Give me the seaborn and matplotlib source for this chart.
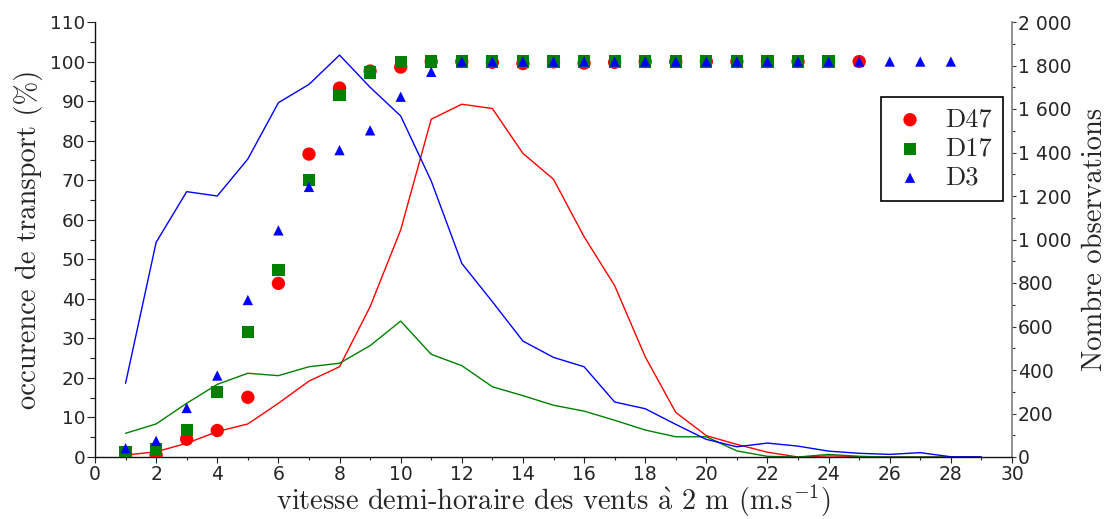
import matplotlib
matplotlib.use("Agg")
import matplotlib.pyplot as plt
from matplotlib.ticker import MultipleLocator, FuncFormatter
import seaborn as sns
import pandas as pd

# ---- data ----
x_d47 = list(range(1, 26))
x_d17 = list(range(1, 25))
x_d3 = list(range(1, 29))
x_count = list(range(1, 30))

pct_d47 = [0.4, 0.5, 4.5, 6.7, 15.1, 43.9, 76.6, 93.3, 97.6, 98.6, 100, 100, 99.8,
           99.5, 99.9, 99.6, 99.8, 100, 100, 100, 100, 100, 100, 100, 100]
pct_d17 = [1.2, 2.0, 6.9, 16.5, 31.7, 47.2, 70.1, 91.6, 97.2, 99.9, 100, 100, 100,
           100, 100, 100, 100, 100, 100, 100, 100, 100, 100, 100]
pct_d3 = [2.2, 4.1, 12.4, 20.6, 39.7, 57.3, 68.3, 77.6, 82.6, 91.1, 97.4, 100, 100,
          100, 100, 100, 100, 100, 100, 100, 100, 100, 100, 100, 100, 100, 100, 100]

n_d47 = [9, 24, 63, 117, 152, 247, 349, 415, 691, 1044, 1553, 1622, 1602, 1396, 1277,
         1013, 788, 461, 205, 98, 58, 22, 0, 5, 2, 0, 0, 0, 0]
n_d17 = [109, 152, 247, 334, 385, 374, 415, 431, 512, 625, 472, 420, 323, 282, 238,
         211, 169, 124, 93, 93, 28, 3, 0, 12, 3, 0, 0, 0, 0]
n_d3 = [339, 987, 1220, 1200, 1370, 1629, 1713, 1848, 1700, 1568, 1269, 890, 714, 533,
        458, 415, 253, 222, 150, 81, 47, 64, 50, 27, 17, 12, 20, 1, 0]

series = ["D47", "D17", "D3"]
colors = {"D47": "#ff0000", "D17": "#008000", "D3": "#0000ff"}
markers = {"D47": "o", "D17": "s", "D3": "^"}
msize = {"D47": 92, "D17": 78, "D3": 55}

pct = {"D47": (x_d47, pct_d47), "D17": (x_d17, pct_d17), "D3": (x_d3, pct_d3)}
cnt = {"D47": n_d47, "D17": n_d17, "D3": n_d3}

# ---- style ----
sns.set_style("ticks")
plt.rcParams["font.family"] = ["DejaVu Sans"]
plt.rcParams["mathtext.fontset"] = "cm"
serif = ["cmr10", "DejaVu Serif"]

fig = plt.figure(figsize=(11.13, 5.19), dpi=100)
ax = fig.add_axes([95 / 1113, 1 - 457 / 519, (1012 - 95) / 1113, (457 - 22) / 519])
ax2 = ax.twinx()

for s in series:
    df = pd.DataFrame({"x": x_count, "n": cnt[s]})
    sns.lineplot(data=df, x="x", y="n", color=colors[s], lw=1.0, ax=ax2, legend=False)

for s in series:
    xs, ys = pct[s]
    df = pd.DataFrame({"x": xs, "y": ys})
    sns.scatterplot(data=df, x="x", y="y", marker=markers[s], color=colors[s],
                    s=msize[s], edgecolor="none", linewidth=0, ax=ax, label=s, zorder=3)

ax.set_zorder(ax2.get_zorder() + 1)
ax.patch.set_visible(False)

ax.set_xlim(0, 30)
ax.set_ylim(0, 110)
ax2.set_ylim(0, 2000)
ax.xaxis.set_major_locator(MultipleLocator(2))
ax.xaxis.set_minor_locator(MultipleLocator(1))
ax.yaxis.set_major_locator(MultipleLocator(10))
ax.yaxis.set_minor_locator(MultipleLocator(5))
ax2.yaxis.set_major_locator(MultipleLocator(200))
ax2.yaxis.set_minor_locator(MultipleLocator(100))
ax2.yaxis.set_major_formatter(FuncFormatter(lambda v, p: f"{int(v):,}".replace(",", " ")))

for a in (ax, ax2):
    a.spines["top"].set_visible(False)
ax.spines["right"].set_visible(False)
ax2.spines["left"].set_visible(False)
ax2.spines["bottom"].set_visible(False)
ax2.spines["right"].set_color("#808080")
ax2.spines["right"].set_linewidth(1.2)
ax.spines["left"].set_linewidth(1.0)
ax.spines["bottom"].set_linewidth(1.0)
ax.spines["left"].set_color("#111111")
ax.spines["bottom"].set_color("#111111")

ax.tick_params(axis="y", which="major", direction="out", length=5.5, width=0.8,
               pad=1.5, labelsize=13.2, color="#222222")
ax.tick_params(axis="y", which="minor", direction="out", length=3.5, width=0.8, color="#222222")
ax.tick_params(axis="x", which="major", direction="out", length=4, width=0.8,
               pad=2, labelsize=13.5, color="#222222")
ax.tick_params(axis="x", which="minor", direction="out", length=2.5, width=0.8, color="#222222")
ax2.tick_params(axis="y", which="major", direction="out", length=3.2, width=0.8,
                pad=1, labelsize=13.5, color="#333333")
ax2.tick_params(axis="y", which="minor", direction="out", length=2.4, width=0.8, color="#333333")

ax.set_xlabel(r"vitesse demi-horaire des vents $\mathrm{\grave{a}}$ 2 m (m.s$^{\mathrm{-1}}$)",
              fontsize=20.5, family=serif, labelpad=-1)
ax.set_ylabel("occurence de transport (%)", fontsize=20.5, family=serif, labelpad=5)
ax2.set_ylabel("Nombre observations", fontsize=20.5, family=serif, labelpad=7)

leg = ax.legend(loc="upper right", bbox_to_anchor=(0.99, 0.828), borderaxespad=0,
                frameon=True, fancybox=False, framealpha=1, edgecolor="black",
                prop={"family": serif, "size": 19}, handlelength=1.33, handletextpad=0.66,
                borderpad=0.42, labelspacing=0.2, markerscale=1.0)
leg.get_frame().set_linewidth(1.2)

fig.savefig("out.png", dpi=100)
